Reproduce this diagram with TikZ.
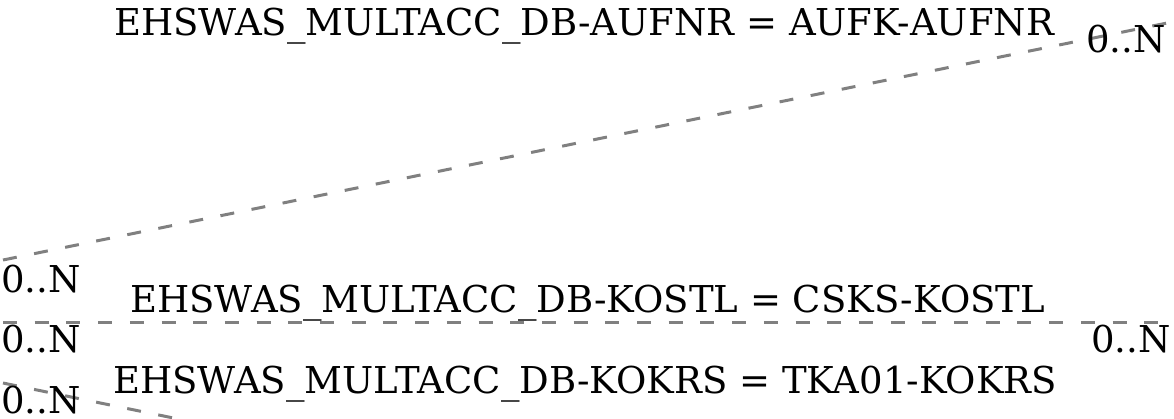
\documentclass[tikz,border=0pt]{standalone}
\usepackage{fontspec}
\setmainfont{DejaVu Serif}
\usetikzlibrary{positioning}

\begin{document}
\begin{tikzpicture}[x=1pt, y=-1pt,
    rel/.style={draw=gray, line width=3pt, dash pattern=on 14pt off 17.7pt},
    lbl/.style={inner sep=0pt, anchor=base west, font=\fontsize{37}{44}\selectfont}]
    \useasboundingbox (0,0) rectangle (1174,418);
    \clip (0,0) rectangle (1174,418);
    % line end points
    \coordinate (aufnrL) at (3,260);
    \coordinate (aufnrR) at (1172,22);
    \coordinate (kostlL) at (3,322);
    \coordinate (kostlR) at (1172,322);
    \coordinate (kokrsL) at (3,383);
    \coordinate (kokrsR) at (300,444);

    \draw[rel] (aufnrL) -- (aufnrR);
    \draw[rel] (kostlL) -- (kostlR);
    \draw[rel] (kokrsL) -- (kokrsR);

    \node[lbl] (aufnr) at (114,35) {EHSWAS\_MULTACC\_DB-AUFNR = AUFK-AUFNR};
    \node[lbl] (kostl) at (130,312) {EHSWAS\_MULTACC\_DB-KOSTL = CSKS-KOSTL};
    \node[lbl] (kokrs) at (113,393) {EHSWAS\_MULTACC\_DB-KOKRS = TKA01-KOKRS};

    \node[lbl] (aufnrC1) at (1086,52) {0..N};
    \node[lbl] (aufnrC2) at (1,292) {0..N};
    \node[lbl] (kostlC1) at (1,352) {0..N};
    \node[lbl] (kostlC2) at (1091,352) {0..N};
    \node[lbl] (kokrsC1) at (1,413) {0..N};
\end{tikzpicture}
\end{document}
